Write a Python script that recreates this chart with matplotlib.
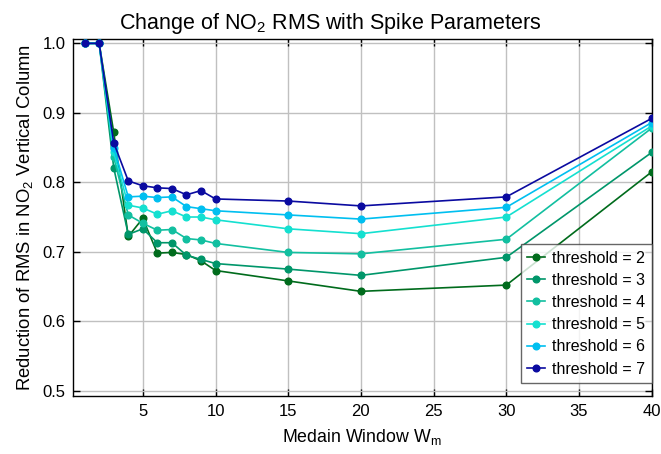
import matplotlib
matplotlib.use("Agg")
import matplotlib.pyplot as plt

plt.rcParams['font.family'] = ['Liberation Sans', 'DejaVu Sans']
plt.rcParams['mathtext.fontset'] = 'custom'
plt.rcParams['mathtext.rm'] = 'Liberation Sans'
plt.rcParams['mathtext.it'] = 'Liberation Sans'

window = [1, 2, 3, 4, 5, 6, 7, 8, 9, 10, 15, 20, 30, 40]
thr2 = [1.0, 1.0, 0.872, 0.722, 0.748, 0.698, 0.699, 0.696, 0.687, 0.673, 0.658, 0.643, 0.652, 0.815]
thr3 = [1.0, 1.0, 0.821, 0.725, 0.733, 0.713, 0.713, 0.695, 0.689, 0.683, 0.675, 0.666, 0.692, 0.843]
thr4 = [1.0, 1.0, 0.836, 0.753, 0.741, 0.731, 0.732, 0.719, 0.717, 0.712, 0.699, 0.697, 0.718, 0.878]
thr5 = [1.0, 1.0, 0.843, 0.767, 0.763, 0.754, 0.759, 0.750, 0.750, 0.746, 0.733, 0.726, 0.750, 0.881]
thr6 = [1.0, 1.0, 0.850, 0.779, 0.780, 0.778, 0.779, 0.765, 0.762, 0.759, 0.753, 0.747, 0.764, 0.886]
thr7 = [1.0, 1.0, 0.857, 0.802, 0.795, 0.792, 0.791, 0.782, 0.788, 0.776, 0.773, 0.766, 0.779, 0.892]
labels = ['threshold = 2', 'threshold = 3', 'threshold = 4',
          'threshold = 5', 'threshold = 6', 'threshold = 7']
colors = ['#006b1c', '#00966a', '#12bfa0', '#14e0d0', '#00bff0', '#0a0aa0']
xticks = [5, 10, 15, 20, 25, 30, 35, 40]
yticks = [0.5, 0.6, 0.7, 0.8, 0.9, 1.0]

fig = plt.figure(figsize=(6.61, 4.54), dpi=100)
ax = fig.add_axes([0.110, 0.128, 0.876, 0.786])

for ys, c, lab in zip([thr2, thr3, thr4, thr5, thr6, thr7], colors, labels):
    ax.plot(window, ys, '-o', color=c, lw=1.2, ms=4.8, label=lab, zorder=3)

ax.set_xlim(0.18, 40)
ax.set_ylim(0.4925, 1.0062)
ax.set_xticks(xticks)
ax.set_yticks(yticks)
ax.set_yticklabels([f'{v:.1f}' for v in yticks])
ax.grid(True, color='#c0c0c0', lw=1.0)
ax.set_axisbelow(True)
ax.tick_params(direction='in', top=True, right=True, length=5, labelsize=12, width=1)
ax.tick_params(axis='y', pad=5.2)
ax.tick_params(axis='x', pad=5.5)
for s in ax.spines.values():
    s.set_linewidth(1.0)
    s.set_color('black')

ax.set_title('Change of NO$_2$ RMS with Spike Parameters', fontsize=15.5, pad=7,
             x=(330.5 - 72.7) / 579.0)
ax.set_xlabel('Medain Window W$_m$', fontsize=12.8, labelpad=6)
ax.set_ylabel('Reduction of RMS in NO$_2$ Vertical Column', fontsize=13.3, labelpad=5)

leg = ax.legend(loc='lower right', bbox_to_anchor=(1.0, 13 / 357.0),
                fontsize=11.5, frameon=True, fancybox=False,
                edgecolor='#404040', borderaxespad=0.0, handlelength=1.1,
                handletextpad=0.45, labelspacing=0.45, borderpad=0.4)
leg.get_frame().set_linewidth(1.0)

fig.savefig('out.png', dpi=100)
